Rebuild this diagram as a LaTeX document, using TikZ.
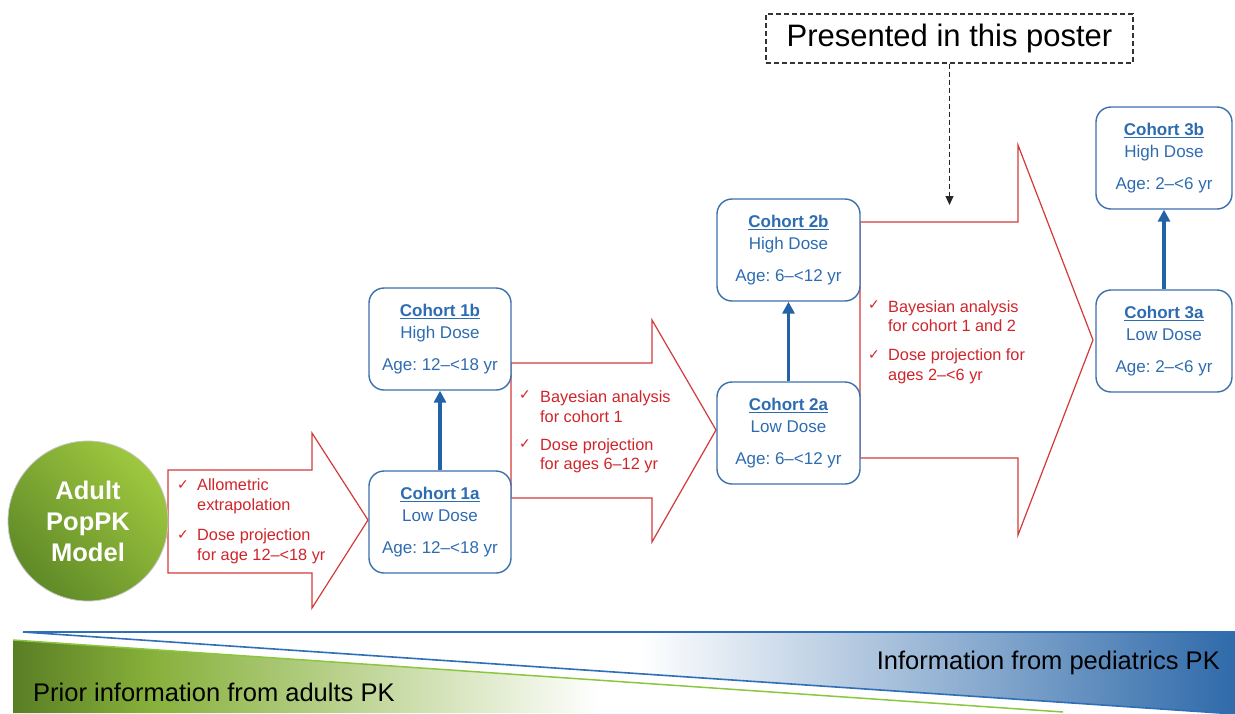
\documentclass[tikz,border=0pt]{standalone}
\usepackage{fontspec}
\setmainfont{Liberation Sans}
\newfontfamily\symfont{DejaVu Sans}
\usetikzlibrary{arrows.meta,shapes.geometric}
\definecolor{redc}{HTML}{D0252B}
\definecolor{redline}{HTML}{D33A3A}
\definecolor{bluec}{HTML}{2E6CB2}
\definecolor{blueb}{HTML}{3B6FAD}
\definecolor{bluearr}{HTML}{2462A8}
\definecolor{gdark}{HTML}{5A7E24}
\definecolor{gmid}{HTML}{86B03A}
\definecolor{gtop}{HTML}{9FC83F}
\definecolor{gbot}{HTML}{5F8A27}
\definecolor{bdark}{HTML}{2F6AAA}
\definecolor{gline}{HTML}{8CC63F}
\definecolor{bline}{HTML}{2E6FB7}
\begin{document}
\frenchspacing
\begin{tikzpicture}[x=1pt,y=-1pt,
 cohort/.style={draw=blueb, line width=1.4pt, rounded corners=15pt, minimum width=142pt, minimum height=102pt, align=center, text=bluec, font=\fontsize{17}{22}\selectfont, inner sep=0pt, fill=white},
 redarrow/.style={draw=redline, line width=1.2pt, fill=white, line join=miter},
 redtext/.style={anchor=west, align=left, text=redc, font=\fontsize{16.3}{19.5}\selectfont, inner sep=0pt},
 chk/.style={text=redc, font=\symfont\fontsize{14}{14}\selectfont, inner sep=0pt},
 upar/.style={draw=bluearr, line width=3.5pt, -{Triangle[length=12pt,width=12pt]}},
 bandtext/.style={font=\fontsize{25.5}{25.5}\selectfont, inner sep=0pt, text=black},
]
\useasboundingbox (0,0) rectangle (1235,713);

% bottom bands
\shade[left color=gdark, right color=gmid] (13,640) -- (150,649.4) -- (150,713) -- (13,713) -- cycle;
\shade[left color=gmid, right color=white] (150,649.4) -- (600,680.3) -- (600,713) -- (150,713) -- cycle;
\draw[gline, line width=1.5pt] (13,640) -- (1063,712);
\shade[left color=white, right color=bdark] (640,632) -- (1235,632) -- (1235,714) -- (640,673.8) -- cycle;
\draw[bline, line width=1.6pt] (23,632) -- (1235,632);
\draw[bline, line width=1.6pt] (23,632) -- (1235,714);
\node[bandtext, anchor=west] (prior) at (33,692) {Prior information from adults PK};
\node[bandtext, anchor=east] (peds) at (1220,663) {Information from pediatrics PK};

% red arrows
\draw[redarrow] (168,470) -- (312,470) -- (312,433) -- (368,520) -- (312,608) -- (312,573) -- (168,573) -- cycle;
\draw[redarrow] (511,363) -- (652,363) -- (652,320) -- (716,430) -- (652,542) -- (652,498) -- (511,498) -- cycle;
\draw[redarrow] (860,222) -- (1018,222) -- (1018,145) -- (1093,340) -- (1018,535) -- (1018,458) -- (860,458) -- cycle;

% circle
\node[circle, minimum size=160pt, inner sep=0pt, draw=gray!45, line width=0.8pt,
      top color=gtop, bottom color=gbot, shading angle=-45,
      text=white, font=\bfseries\fontsize{25.5}{31}\selectfont, align=center] (adult) at (88,521) {Adult\\PopPK\\Model};

% cohort boxes
\node[cohort] (c1a) at (440,522) {\underline{\textbf{Cohort 1a}}\\Low Dose\\[10pt]Age: 12–<18 yr};
\node[cohort] (c1b) at (440,339) {\underline{\textbf{Cohort 1b}}\\High Dose\\[10pt]Age: 12–<18 yr};
\node[cohort, minimum width=143pt] (c2a) at (788.5,433) {\underline{\textbf{Cohort 2a}}\\Low Dose\\[10pt]Age: 6–<12 yr};
\node[cohort, minimum width=143pt] (c2b) at (788.5,250) {\underline{\textbf{Cohort 2b}}\\High Dose\\[10pt]Age: 6–<12 yr};
\node[cohort, minimum width=136pt] (c3a) at (1164,341) {\underline{\textbf{Cohort 3a}}\\Low Dose\\[10pt]Age: 2–<6 yr};
\node[cohort, minimum width=136pt] (c3b) at (1164,158) {\underline{\textbf{Cohort 3b}}\\High Dose\\[10pt]Age: 2–<6 yr};

\draw[upar] (c1a.north) -- (c1b.south);
\draw[upar] (c2a.north) -- (c2b.south);
\draw[upar] (c3a.north) -- (c3b.south);

% red texts
\node[chk] (k1) at (183,485) {✓};
\node[redtext] (t1) at (197,496.5) {Allometric\\extrapolation};
\node[chk] (k2) at (183,535) {✓};
\node[redtext] (t2) at (197,546.5) {Dose projection\\for age 12–<18 yr};
\node[chk] (k3) at (525,395) {✓};
\node[redtext] (t3) at (540,406.5) {Bayesian analysis\\for cohort 1};
\node[chk] (k4) at (525,444) {✓};
\node[redtext] (t4) at (540,456) {Dose projection\\for ages 6–12 yr};
\node[chk] (k5) at (874,305) {✓};
\node[redtext] (t5) at (888,316) {Bayesian analysis\\for cohort 1 and 2};
\node[chk] (k6) at (874,355) {✓};
\node[redtext] (t6) at (888,366.5) {Dose projection for\\ages 2–<6 yr};

% presented box
\node[draw=black!80, dash pattern=on 5pt off 3pt, line width=1.1pt, minimum width=367pt, minimum height=49pt,
      font=\fontsize{31}{31}\selectfont, inner sep=0pt] (pres) at (949.5,38.5) {Presented in this poster};
\coordinate (presend) at (949.5,205);
\draw[black!85, dash pattern=on 5pt off 3pt, line width=1.2pt, -{Triangle[length=9pt,width=8pt]}] (pres.south) -- (presend);
\end{tikzpicture}
\end{document}
